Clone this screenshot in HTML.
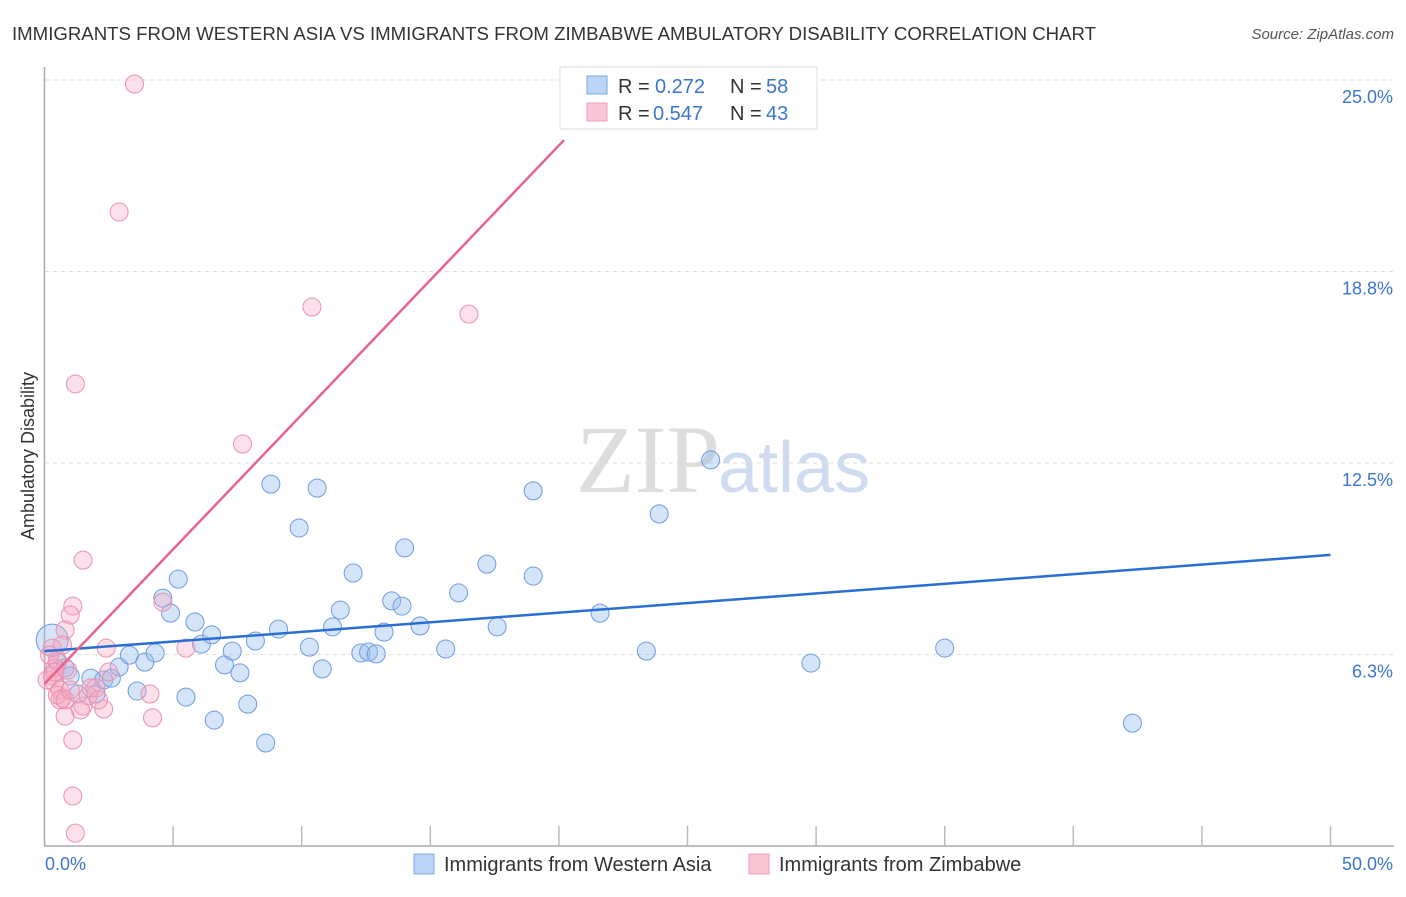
<!DOCTYPE html>
<html><head><meta charset="utf-8"><style>
body{margin:0;background:#fff;font-family:"Liberation Sans",sans-serif}
</style></head><body>
<svg width="1406" height="892" xmlns="http://www.w3.org/2000/svg" style="font-family:'Liberation Sans',sans-serif">
<text x="12" y="40" font-size="18" fill="#333" textLength="1084" lengthAdjust="spacingAndGlyphs">IMMIGRANTS FROM WESTERN ASIA VS IMMIGRANTS FROM ZIMBABWE AMBULATORY DISABILITY CORRELATION CHART</text>
<text x="1394" y="39" font-size="15" fill="#555" font-style="italic" text-anchor="end">Source: ZipAtlas.com</text>
<text x="720" y="492" font-size="96" fill="#ddd" font-family="Liberation Serif" text-anchor="end">ZIP</text>
<text x="718" y="492" font-size="72" fill="#cfdcf0">atlas</text>
<g id="grid"></g>
<g id="axes"></g>
<g id="marks"></g>
<text transform="translate(34,456) rotate(-90)" font-size="18" fill="#333" text-anchor="middle">Ambulatory Disability</text>
<g>
<rect x="560" y="67" width="257" height="62" fill="#fff" stroke="#ddd"/>
<rect x="587" y="76" width="20" height="18" fill="#bcd4f5" stroke="#7ea6e0"/>
<rect x="587" y="103" width="20" height="18" fill="#f9c6d6" stroke="#eda0b8"/>
<text x="618" y="93" font-size="20" fill="#333">R =</text>
<text x="655" y="93" font-size="20" fill="#3a76d0">0.272</text>
<text x="730" y="93" font-size="20" fill="#333">N =</text>
<text x="766" y="93" font-size="20" fill="#3a76d0">58</text>
<text x="618" y="120" font-size="20" fill="#333">R =</text>
<text x="653" y="120" font-size="20" fill="#3a76d0">0.547</text>
<text x="730" y="120" font-size="20" fill="#333">N =</text>
<text x="766" y="120" font-size="20" fill="#3a76d0">43</text>
</g>
<g>
<rect x="414" y="854" width="20" height="20" fill="#bcd4f5" stroke="#7ea6e0"/>
<text x="444" y="871" font-size="20" fill="#333">Immigrants from Western Asia</text>
<rect x="749" y="854" width="20" height="20" fill="#f9c6d6" stroke="#eda0b8"/>
<text x="779" y="871" font-size="20" fill="#333">Immigrants from Zimbabwe</text>
</g>
</svg>
<script>
const yTicks=[6.25,12.5,18.75,25];
const yTickLabels=["6.3%","12.5%","18.8%","25.0%"];
const blueX=[0.3,0.5,0.8,1.0,1.3,1.8,2.0,2.3,2.6,2.9,3.3,3.6,3.9,4.3,4.6,4.9,5.2,5.5,5.85,6.1,6.5,6.6,7.0,7.3,7.6,7.9,8.2,8.6,8.8,9.1,9.9,10.3,10.6,10.8,11.2,11.5,12.0,12.3,12.6,12.9,13.2,13.5,13.9,14.0,14.6,15.6,16.1,17.2,17.6,19.0,19.0,21.6,23.4,23.9,25.9,29.8,35.0,42.3];
const blueY=[6.72,6.0,5.81,5.55,4.96,5.48,4.96,5.42,5.48,5.84,6.23,5.06,6.0,6.3,8.09,7.6,8.71,4.86,7.31,6.59,6.89,4.11,5.91,6.36,5.65,4.63,6.69,3.36,11.81,7.08,10.38,6.49,11.68,5.78,7.15,7.7,8.91,6.3,6.33,6.27,6.98,8.0,7.83,9.73,7.18,6.43,8.26,9.2,7.15,8.81,11.59,7.6,6.36,10.84,12.6,5.97,6.46,4.01];
const pinkX=[3.5,2.9,10.4,16.5,1.2,7.7,1.5,1.1,1.0,0.8,0.3,0.5,0.4,0.3,0.4,0.6,0.7,0.6,0.8,1.1,1.1,1.2,2.4,4.6,5.5,2.5,2.0,1.5,1.7,2.3,4.1,4.2,0.9,0.2,0.7,0.5,1.8,0.1,1.4,0.8,0.4,2.1,1.0];
const pinkY=[24.87,20.69,17.59,17.36,15.08,13.12,9.33,7.83,7.54,7.05,6.46,6.07,5.81,5.55,5.32,5.09,4.83,4.77,4.24,3.46,1.63,0.42,6.46,7.96,6.46,5.68,5.16,4.57,4.9,4.47,4.96,4.18,5.74,6.23,6.56,4.93,5.16,5.42,4.44,4.77,5.68,4.77,5.09];
const blueLine=[6.36,9.5];
const pinkLine=[5.29,23.04,20.2];
const xs=v=>44.5+v*25.72, ys=v=>846-v*30.64;
const NS="http://www.w3.org/2000/svg";
function mk(tag,attrs,parent){const e=document.createElementNS(NS,tag);for(const k in attrs)e.setAttribute(k,attrs[k]);parent.appendChild(e);return e;}
const grid=document.getElementById('grid'),axes=document.getElementById('axes'),marks=document.getElementById('marks');
yTicks.forEach((t,i)=>{
 const l=mk('line',{x1:45,x2:1394,y1:ys(t),y2:ys(t),stroke:'#ddd','stroke-dasharray':'4,4'},grid);
 
 
 const tx=mk('text',{x:1393,y:ys(t)+23,'font-size':18,fill:'#3a76d0','text-anchor':'end'},axes);
 tx.textContent=yTickLabels[i];
 
 
});
const ya=mk('line',{x1:44.5,x2:44.5,y1:67,y2:846,stroke:'#aaa','stroke-width':1.5},axes);


const xa=mk('line',{x1:44.5,x2:1394,y1:846,y2:846,stroke:'#aaa','stroke-width':1.5},axes);


for(let v=5;v<=50;v+=5){const t=mk('line',{x1:xs(v),x2:xs(v),y1:826,y2:846,stroke:'#bbb','stroke-width':1.5},axes);
 
 }
[["0.0%",45,'start'],["50.0%",1393,'end']].forEach(a=>{const t=mk('text',{x:a[1],y:870,'font-size':18,fill:'#3a76d0','text-anchor':a[2]},axes);t.textContent=a[0];
 
 });
blueX.forEach((x,i)=>{const c=mk('circle',{cx:xs(x),cy:ys(blueY[i]),r:9,fill:'rgba(150,190,240,0.4)',stroke:'#6f9be0','stroke-width':1},marks);
 if(i===0)c.setAttribute('r',16);
 
 });
pinkX.forEach((x,i)=>{const c=mk('circle',{cx:xs(x),cy:ys(pinkY[i]),r:9,fill:'rgba(245,170,195,0.35)',stroke:'#ec90ae','stroke-width':1},marks);
 
 });
const bl=mk('line',{x1:xs(0),y1:ys(blueLine[0]),x2:xs(50),y2:ys(blueLine[1]),stroke:'#2a6ed4','stroke-width':2.5},marks);


const pl=mk('line',{x1:xs(0),y1:ys(pinkLine[0]),x2:xs(pinkLine[2]),y2:ys(pinkLine[1]),stroke:'#e8648e','stroke-width':2.5},marks);


</script>
</body></html>
